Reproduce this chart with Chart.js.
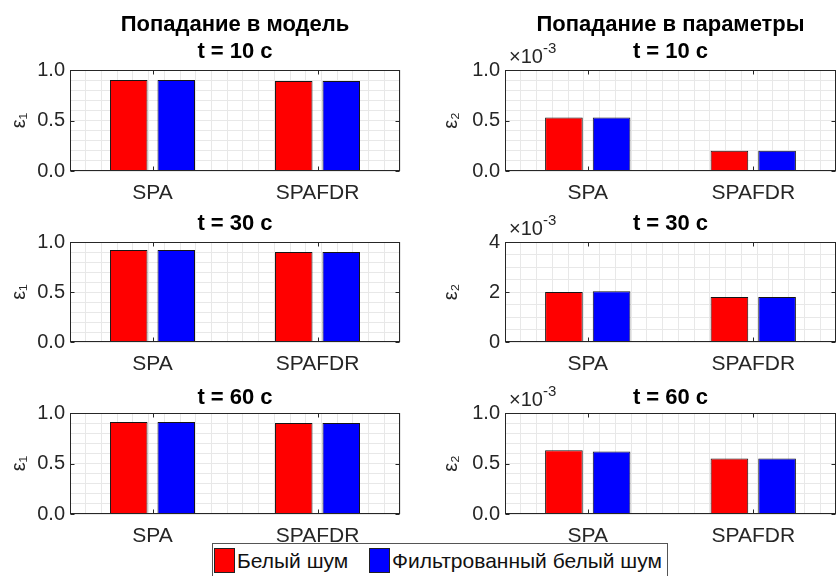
<!DOCTYPE html>
<html>
<head>
<meta charset="utf-8">
<script src="https://cdn.jsdelivr.net/npm/chart.js@4.4.1/dist/chart.umd.min.js"></script>
<style>
  html, body { margin: 0; padding: 0; background: #fff; }
  body { position: relative; width: 836px; height: 576px; overflow: hidden;
         font-family: "Liberation Sans", Arial, Helvetica, sans-serif; }
  canvas { position: absolute; }
  #legend { position: absolute; left: 212px; top: 543px; width: 456px; height: 34px;
            border: 1px solid #555; background: #fff; box-sizing: border-box; }
  #legend .sw { position: absolute; top: 4px; width: 21px; height: 25px;
                border: 1px solid #222; box-sizing: border-box; }
  #legend .lbl { position: absolute; top: 4px; font-size: 21px; line-height: 25px; color: #111; white-space: nowrap; }
</style>
</head>
<body>
<canvas id="p1"></canvas>
<canvas id="p2"></canvas>
<canvas id="p3"></canvas>
<canvas id="p4"></canvas>
<canvas id="p5"></canvas>
<canvas id="p6"></canvas>
<div id="legend"></div>

<script>
// ---- data -------------------------------------------------------------
const categories = ['SPA', 'SPAFDR'];
const seriesNames = ['Белый шум', 'Фильтрованный белый шум'];
const seriesColors = ['#ff0000', '#0000ff'];
const columnTitles = ['Попадание в модель', 'Попадание в параметры'];
const timeLabels = ['t = 10 c', 't = 30 c', 't = 60 c'];

// ε1: model fit
const eps1White10    = [0.90, 0.89];
const eps1Filtered10 = [0.90, 0.89];
const eps1White30    = [0.92, 0.90];
const eps1Filtered30 = [0.92, 0.90];
const eps1White60    = [0.91, 0.90];
const eps1Filtered60 = [0.91, 0.90];

// ε2: parameter fit, in units of 1e-3
const eps2White10    = [0.53, 0.20];
const eps2Filtered10 = [0.53, 0.20];
const eps2White30    = [2.00, 1.80];
const eps2Filtered30 = [2.03, 1.80];
const eps2White60    = [0.63, 0.55];
const eps2Filtered60 = [0.62, 0.55];

// axis ticks
const unitTickValues = [0, 0.5, 1.0];
const unitTickLabels = ['0.0', '0.5', '1.0'];
const wideTickValues = [0, 2, 4];
const wideTickLabels = ['0', '2', '4'];
const exponentLabel = ['×10', '-3'];

// ---- styling ----------------------------------------------------------
const FONT = '"Liberation Sans", Arial, Helvetica, sans-serif';
const GRID = '#e8e8e8';
const AXIS = '#262626';
const TITLE_SIZE = 22;
const TICK_SIZE = 20;
const CAT_SIZE = 21;
const X_AXIS_H = 30;

// draws the closed axes box, inward tick marks and the ×10^-3 multiplier
const axesFrame = {
  id: 'axesFrame',
  afterDatasetsDraw(chart, args, opts) {
    const { ctx, chartArea: a, scales } = chart;
    const L = Math.round(a.left) + 0.5, R = Math.round(a.right) - 0.5;
    const T = Math.round(a.top) + 0.5, B = Math.round(a.bottom) - 0.5;
    ctx.save();
    ctx.strokeStyle = AXIS;
    ctx.lineWidth = 1;
    ctx.strokeRect(L, T, R - L, B - T);
    const tl = 4;
    ctx.beginPath();
    scales.x.ticks.forEach((t, i) => {
      const x = Math.round(scales.x.getPixelForTick(i)) + 0.5;
      ctx.moveTo(x, B); ctx.lineTo(x, B - tl);
      ctx.moveTo(x, T); ctx.lineTo(x, T + tl);
    });
    (opts.major || []).forEach(v => {
      const y = Math.round(scales.y.getPixelForValue(v)) + 0.5;
      ctx.moveTo(L, y); ctx.lineTo(L + tl, y);
      ctx.moveTo(R, y); ctx.lineTo(R - tl, y);
    });
    ctx.stroke();
    if (opts.exponent) {
      ctx.fillStyle = AXIS;
      ctx.textBaseline = 'alphabetic';
      ctx.textAlign = 'left';
      ctx.font = TICK_SIZE + 'px ' + FONT;
      const x0 = a.left + 4;
      ctx.fillText(exponentLabel[0], x0, a.top - 7);
      const w = ctx.measureText(exponentLabel[0]).width;
      ctx.font = '15px ' + FONT;
      ctx.fillText(exponentLabel[1], x0 + w, a.top - 17);
    }
    ctx.restore();
  }
};

// layout of the 2x3 grid of axes (page pixels)
const COLS = [
  { left: 0,   w: 418, plotL: 70,  plotR: 400, yTitleX: 19 },
  { left: 420, w: 420, plotL: 505, plotR: 836, yTitleX: 451 }
];
const ROWS = [
  { top: 0,   h: 210, plotT: 70,  plotB: 171, subY: 52,  titleY: 25 },
  { top: 200, h: 180, plotT: 242, plotB: 342, subY: 224 },
  { top: 370, h: 172, plotT: 413, plotB: 514, subY: 398 }
];

const panels = [
  { id: 'p1', col: 0, row: 0, white: eps1White10, filtered: eps1Filtered10, yMax: 1, minor: 0.1, ticksV: unitTickValues, ticksL: unitTickLabels, yTitle: 'ε₁' },
  { id: 'p2', col: 1, row: 0, white: eps2White10, filtered: eps2Filtered10, yMax: 1, minor: 0.1, ticksV: unitTickValues, ticksL: unitTickLabels, yTitle: 'ε₂', exponent: true },
  { id: 'p3', col: 0, row: 1, white: eps1White30, filtered: eps1Filtered30, yMax: 1, minor: 0.1, ticksV: unitTickValues, ticksL: unitTickLabels, yTitle: 'ε₁' },
  { id: 'p4', col: 1, row: 1, white: eps2White30, filtered: eps2Filtered30, yMax: 4, minor: 0.5, ticksV: wideTickValues, ticksL: wideTickLabels, yTitle: 'ε₂', exponent: true },
  { id: 'p5', col: 0, row: 2, white: eps1White60, filtered: eps1Filtered60, yMax: 1, minor: 0.1, ticksV: unitTickValues, ticksL: unitTickLabels, yTitle: 'ε₁' },
  { id: 'p6', col: 1, row: 2, white: eps2White60, filtered: eps2Filtered60, yMax: 1, minor: 0.1, ticksV: unitTickValues, ticksL: unitTickLabels, yTitle: 'ε₂', exponent: true }
];

function buildPanel(p) {
  const c = COLS[p.col], r = ROWS[p.row];
  const canvas = document.getElementById(p.id);
  canvas.width = c.w; canvas.height = r.h;
  canvas.style.left = c.left + 'px';
  canvas.style.top = r.top + 'px';

  const plotL = c.plotL - c.left, plotR = c.plotR - c.left;
  const plotT = r.plotT - r.top, plotB = r.plotB - r.top;
  const lh = TITLE_SIZE * 1.2;
  const titleFont = { family: FONT, size: TITLE_SIZE, weight: 'bold', lineHeight: 1.2 };

  let used = 0;
  let title = { display: false };
  if (r.titleY !== undefined) {
    const padTop = (r.titleY - r.top) - lh / 2;
    title = { display: true, text: columnTitles[p.col], fullSize: false, color: '#000',
              font: titleFont, padding: { top: padTop, bottom: 0 } };
    used = padTop + lh;
  }
  const subPadTop = (r.subY - r.top) - lh / 2 - used;
  const subPadBottom = plotT - (used + subPadTop + lh);
  const subtitle = { display: true, text: timeLabels[p.row], fullSize: false, color: '#000',
                     font: titleFont, padding: { top: subPadTop, bottom: subPadBottom } };

  const yTitleSize = 20;
  const datasets = [p.white, p.filtered].map((vals, i) => ({
    label: seriesNames[i],
    data: vals,
    backgroundColor: seriesColors[i],
    borderColor: '#151515',
    borderWidth: 1,
    categoryPercentage: 0.576,
    barPercentage: 0.79,
    xAxisID: 'x',
    yAxisID: 'y'
  }));

  new Chart(canvas, {
    type: 'bar',
    data: { labels: categories, datasets },
    options: {
      responsive: false,
      animation: false,
      events: [],
      layout: { padding: { left: 0, top: 0, right: c.w - plotR, bottom: r.h - plotB - X_AXIS_H } },
      scales: {
        x: {
          type: 'category',
          offset: true,
          grid: { display: false, drawTicks: false },
          border: { display: false },
          ticks: { padding: 22 - CAT_SIZE * 0.6, color: AXIS, font: { family: FONT, size: CAT_SIZE }, maxRotation: 0 },
          afterFit: s => { s.height = X_AXIS_H; }
        },
        xg: {
          type: 'linear',
          position: 'bottom',
          min: 0.5, max: 2.5,
          grid: { color: GRID, drawTicks: false },
          border: { display: false },
          ticks: { display: false, stepSize: 0.1, autoSkip: false },
          afterFit: s => { s.height = 0; }
        },
        y: {
          min: 0, max: p.yMax,
          grid: { color: GRID, drawTicks: false },
          border: { display: false },
          ticks: {
            stepSize: p.minor,
            autoSkip: false,
            padding: 5,
            color: AXIS,
            font: { family: FONT, size: TICK_SIZE },
            callback: v => {
              const k = p.ticksV.findIndex(t => Math.abs(t - v) < 1e-9);
              return k >= 0 ? p.ticksL[k] : '';
            }
          },
          title: {
            display: true, text: p.yTitle, color: AXIS,
            font: { family: FONT, size: yTitleSize, lineHeight: 1.2 },
            padding: { top: (c.yTitleX - c.left) - yTitleSize * 0.6, bottom: 0 }
          },
          afterFit: s => { s.width = plotL; }
        }
      },
      plugins: {
        legend: { display: false },
        tooltip: { enabled: false },
        title,
        subtitle,
        axesFrame: { major: p.ticksV, exponent: !!p.exponent }
      }
    },
    plugins: [axesFrame]
  });
}

panels.forEach(buildPanel);

// shared legend built from the series definitions
const legend = document.getElementById('legend');
const legendX = [1, 156];
seriesNames.forEach((name, i) => {
  const sw = document.createElement('span');
  sw.className = 'sw';
  sw.style.left = legendX[i] + 'px';
  sw.style.background = seriesColors[i];
  legend.appendChild(sw);
  const t = document.createElement('span');
  t.className = 'lbl';
  t.style.left = (legendX[i] + 23) + 'px';
  t.textContent = name;
  legend.appendChild(t);
});
</script>
</body>
</html>
